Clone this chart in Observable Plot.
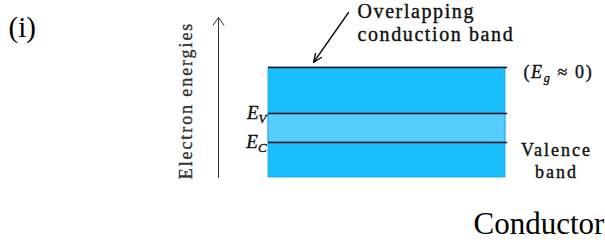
<!DOCTYPE html>
<html><head><meta charset="utf-8">
<script src="https://cdn.jsdelivr.net/npm/d3@7"></script>
<script src="https://cdn.jsdelivr.net/npm/@observablehq/plot@0.6"></script>
<style>
body{margin:0;background:#fff}
.sp16 text{letter-spacing:1.6px}
.sp19 text{letter-spacing:1.9px}
.sp20 text{letter-spacing:2px}
</style>
</head><body><div id="chart"></div>
<script>
// ---- data: energy levels (arbitrary units, 0 = bottom of the valence band) ----
const bandNames = ["Overlapping bands", "Overlap region"];
const bandLow = [0, 3.5];
const bandHigh = [11, 6.4];
const levelNames = ["Top of conduction band", "E_V", "E_C"];
const levelValues = [11, 6.4, 3.5];
const axisTitle = "Electron energies";
const axisTop = 16;
const panelLabel = "(i)";
const caption = "Conductor";
const pointerText = "Overlapping\nconduction band";
const gapText = "(E_g ≈ 0)";
const valenceText = "Valence\nband";

// ---- layout (diagram coordinates) ----
const bandX1 = 268, bandX2 = 505;
const serif = "Liberation Serif";
const fills = ["#1bbffd", "#56cdfd"];
const heavy = {stroke: "#111", strokeWidth: 0.4};

const bands = bandNames.map((name, i) => ({name, low: bandLow[i], high: bandHigh[i], fill: fills[i]}));
const levels = levelNames.map((name, i) => ({name, e: levelValues[i]}));

const plot = Plot.plot({
  width: 605, height: 240,
  margin: 0,
  x: {domain: [0, 605], axis: null},
  y: {domain: [-6.3, 17.7], axis: null},
  marks: [
    Plot.rectY(bands, {x1: bandX1, x2: bandX2, y1: "low", y2: "high", fill: "fill", stroke: "#1aa3e6", strokeWidth: 0.8}),
    Plot.ruleY(levels, {y: "e", x1: bandX1, x2: bandX2 + 2, stroke: "#111", strokeWidth: 1.5}),
    // energy axis arrow
    Plot.arrow([{e1: 0, e2: axisTop}], {x1: 218, x2: 218, y1: "e1", y2: "e2", stroke: "#333", strokeWidth: 1, headLength: 14, headAngle: 70}),
    Plot.text([axisTitle], {x: 186, y: axisTop / 2 - 0.3, text: d => d, rotate: -90, fontFamily: serif, fontSize: 18, fill: "#333", stroke: "#333", strokeWidth: 0.35, textAnchor: "middle", lineAnchor: "middle", className: "sp19"}),
    // level labels
    Plot.text([levels[1], levels[2]], {x: 266, y: d => d.e - 0.55, text: "name", fontFamily: serif, fontSize: 19, fill: "#111", ...heavy, textAnchor: "end", lineAnchor: "bottom", className: "sub-label"}),
    Plot.text([gapText], {x: 523, y: 10, text: d => d, fontFamily: serif, fontSize: 18, fill: "#111", ...heavy, textAnchor: "start", lineAnchor: "bottom", className: "sub-label sp16"}),
    Plot.text([valenceText], {x: 556, y: 0, text: d => d, fontFamily: serif, fontSize: 18, fill: "#111", ...heavy, textAnchor: "middle", lineAnchor: "bottom", lineHeight: 1.22, className: "sp20"}),
    // pointer to overlapping conduction band
    Plot.arrow([{a: 16.5, b: 11.5}], {x1: 348, x2: 313, y1: "a", y2: "b", stroke: "#111", strokeWidth: 1.4, headLength: 10, headAngle: 45}),
    Plot.text([pointerText], {x: 357, y: 13.7, text: d => d, fontFamily: serif, fontSize: 20, fill: "#111", ...heavy, textAnchor: "start", lineAnchor: "bottom", lineHeight: 1.15, className: "sp16"}),
    Plot.text([panelLabel], {x: 8, y: 14.1, text: d => d, fontFamily: serif, fontSize: 29, fill: "#000", textAnchor: "start", lineAnchor: "bottom"}),
    Plot.text([caption], {x: 473, y: -5.6, text: d => d, fontFamily: serif, fontSize: 31, fill: "#000", textAnchor: "start", lineAnchor: "bottom"})
  ]
});

// turn "X_y" into italic X with subscript y
d3.select(plot).selectAll(".sub-label text").each(function () {
  const s = this.textContent;
  const t = d3.select(this);
  t.text(null);
  const re = /([A-Za-z])_([A-Za-z])/g;
  let last = 0, m, shifted = false;
  while ((m = re.exec(s))) {
    if (m.index > last) { t.append("tspan").attr("dy", shifted ? -4 : null).text(s.slice(last, m.index)); shifted = false; }
    t.append("tspan").attr("font-style", "italic").attr("dy", shifted ? -4 : null).text(m[1]);
    t.append("tspan").attr("font-style", "italic").attr("font-size", "0.68em").attr("dy", 4).text(m[2]);
    shifted = true;
    last = re.lastIndex;
  }
  if (last < s.length) t.append("tspan").attr("dy", shifted ? -4 : null).text(s.slice(last));
});

document.getElementById("chart").append(plot);
</script>
</body></html>
